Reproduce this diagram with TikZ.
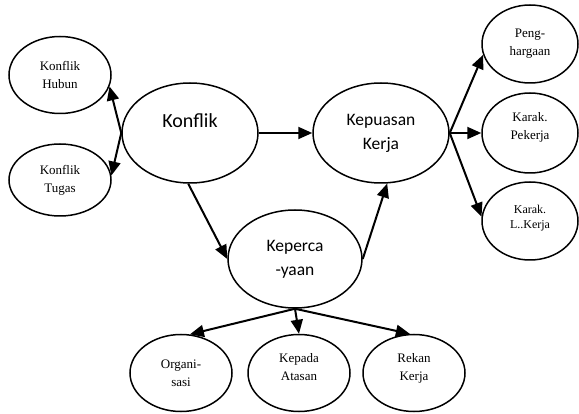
\documentclass[tikz,border=0pt]{standalone}
\usepackage{fontspec}
\setmainfont{Liberation Serif}
\newfontfamily\sansf{Carlito}
\usetikzlibrary{shapes.geometric,arrows.meta}
\tikzset{
  besar/.style={ellipse, draw, line width=1.5pt, inner sep=0pt, minimum width=136pt, minimum height=100pt, align=center, font=\sansf\fontsize{17.5}{24}\selectfont},
  kecil/.style={ellipse, draw, line width=1.5pt, inner sep=0pt, minimum width=102pt, minimum height=77pt, align=center, font=\fontsize{13}{18}\selectfont},
  panah/.style={line width=2pt, -{Triangle[length=14pt,width=12pt]}}
}
\begin{document}
\begin{tikzpicture}[x=1pt,y=-1pt]
			\useasboundingbox (0,0) rectangle (579,414);
			% node utama
			\node[besar, font=\sansf\fontsize{20}{24}\selectfont] (konflik) at (190,133) {Konflik\\\mbox{}};
			\node[besar] (puas) at (381,133) {Kepuasan\\Kerja};
			\node[besar, minimum width=134pt, minimum height=98pt] (percaya) at (295,259) {Keperca\\-yaan};
			% node kecil kiri
			\node[kecil] (hubun) at (60,75) {Konflik\\Hubun};
			\node[kecil, minimum height=72pt] (tugas) at (60,180) {Konflik\\Tugas};
			% node kecil kanan
			\node[kecil, minimum width=96pt, minimum height=78pt] (harga) at (530,44) {Peng-\\hargaan};
			\node[kecil, minimum width=96pt, minimum height=80pt] (pekerja) at (530,133) {Karak.\\Pekerja\\[-4pt]};
			\node[kecil, minimum width=96pt, minimum height=78pt, font=\fontsize{12}{15}\selectfont] (lkerja) at (530,221) {Karak.\\L..Kerja\\[-6pt]};
			% node kecil bawah
			\node[kecil] (organi) at (181,373) {Organi-\\sasi};
			\node[kecil] (atasan) at (299,373) {Kepada\\Atasan\\[-6pt]};
			\node[kecil] (rekan) at (414,373) {Rekan\\Kerja\\[-6pt]};
			% panah
			\draw[panah] (konflik.west) -- (hubun.-13);
			\draw[panah] (konflik.west) -- (tugas.5);
			\draw[panah] (konflik.east) -- (puas.west);
			\draw[panah] (konflik.-92) -- (percaya.west);
			\draw[panah] (percaya.east) -- (puas.-83);
			\draw[panah] (puas.east) -- (harga.193);
			\draw[panah] (puas.east) -- (pekerja.west);
			\draw[panah] (puas.east) -- (lkerja.175);
			\draw[panah] (percaya.south) -- (organi.77);
			\draw[panah] (percaya.south) -- (atasan.north);
			\draw[panah] (percaya.south) -- (rekan.96);
		\end{tikzpicture}
\end{document}
